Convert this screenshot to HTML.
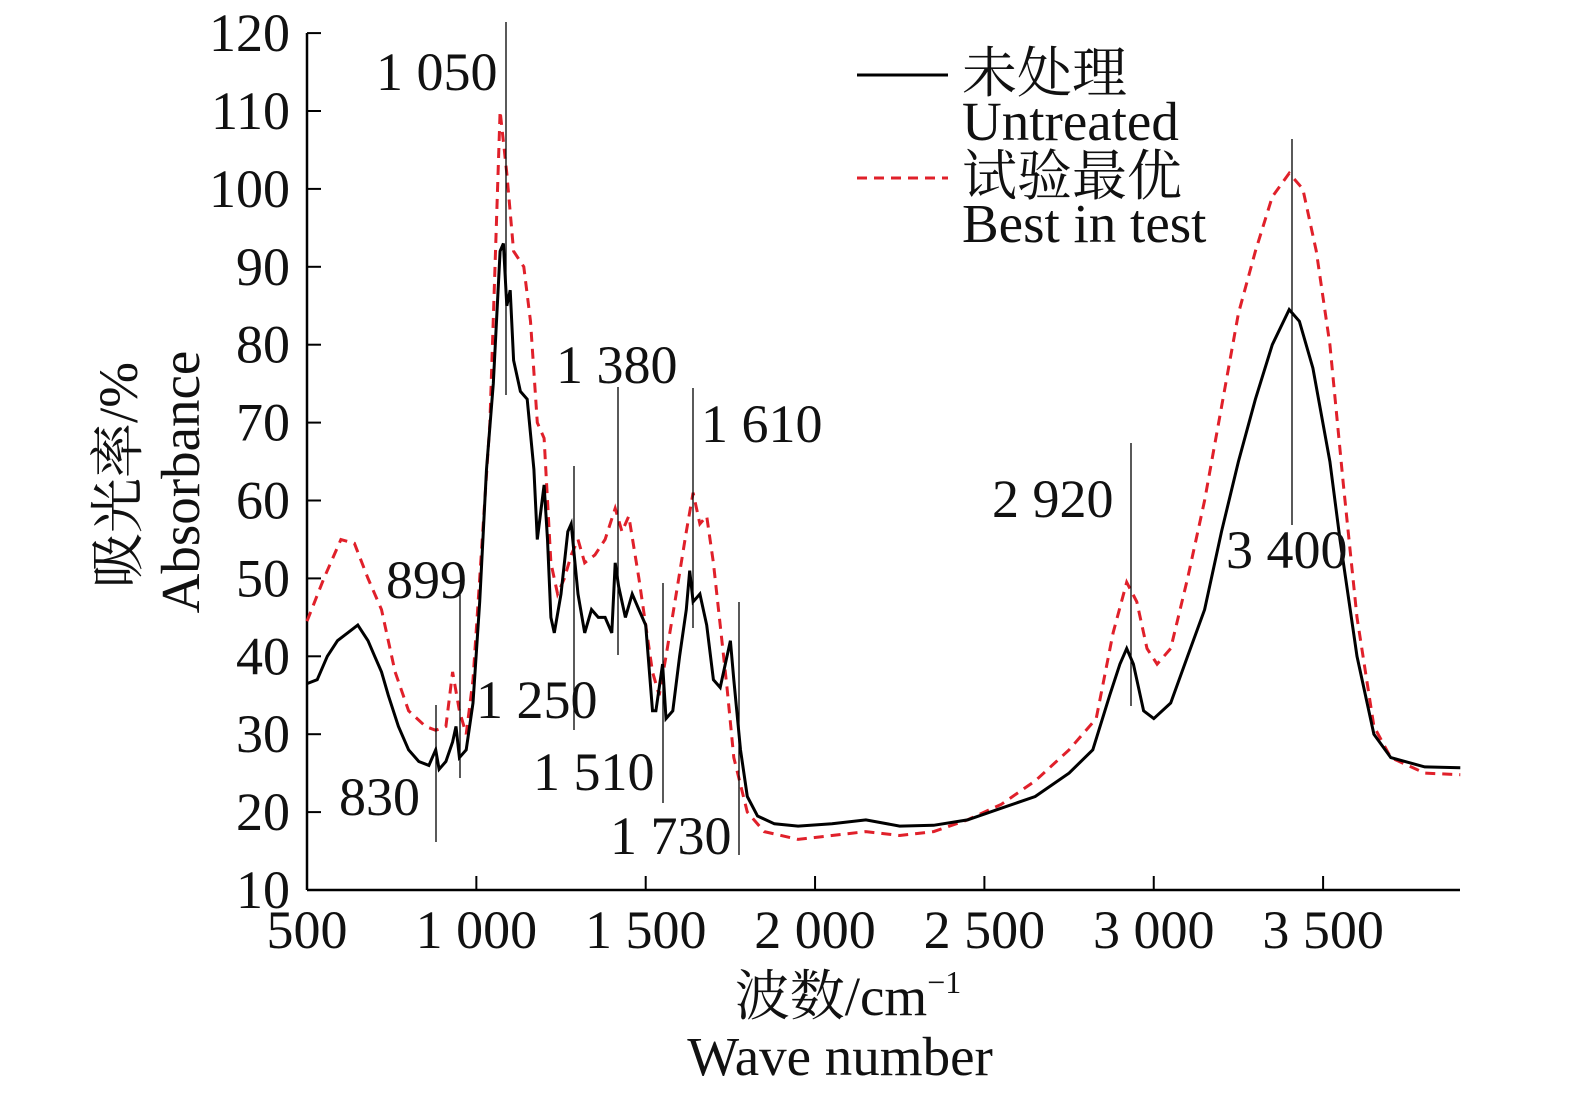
<!DOCTYPE html>
<html><head><meta charset="utf-8"><style>
body{margin:0;background:#fff}
svg{display:block;font-family:"Liberation Serif","Noto Serif CJK SC",serif}
</style></head><body>
<svg id="s" width="1575" height="1095" viewBox="0 0 1575 1095" xmlns="http://www.w3.org/2000/svg">
<g stroke="#000" stroke-width="2.5" fill="none">
<line x1="307" y1="33" x2="307" y2="890"/>
<line x1="307" y1="890" x2="1460" y2="890"/>
</g>
<g id="ticks" stroke="#000" stroke-width="2"></g>
<g id="lab" font-size="54" fill="#111"></g>
<polyline id="red" fill="none" stroke="#e0202a" stroke-width="3" stroke-dasharray="10,7"/>
<polyline id="blk" fill="none" stroke="#000" stroke-width="3"/>
<g stroke="#000" stroke-width="1.3">
<line x1="506" y1="22" x2="506" y2="395"/>
<line x1="436" y1="705" x2="436" y2="842"/>
<line x1="460" y1="592" x2="460" y2="778"/>
<line x1="574" y1="466" x2="574" y2="730"/>
<line x1="618" y1="387" x2="618" y2="655"/>
<line x1="663" y1="583" x2="663" y2="803"/>
<line x1="693" y1="388" x2="693" y2="628"/>
<line x1="739" y1="602" x2="739" y2="855"/>
<line x1="1131" y1="443" x2="1131" y2="706"/>
<line x1="1292" y1="139" x2="1292" y2="525"/>
</g>
<g font-size="54" fill="#111">
<text x="376" y="90">1 050</text>
<text x="386" y="598">899</text>
<text x="339" y="815">830</text>
<text x="476" y="718">1 250</text>
<text x="556" y="383">1 380</text>
<text x="533" y="790">1 510</text>
<text x="701" y="442">1 610</text>
<text x="610" y="854">1 730</text>
<text x="992" y="517">2 920</text>
<text x="1226" y="568">3 400</text>
</g>
<line x1="857" y1="75" x2="948" y2="75" stroke="#000" stroke-width="3"/>
<line x1="857" y1="178" x2="948" y2="178" stroke="#e0202a" stroke-width="3" stroke-dasharray="10,7"/>
<g font-size="55" fill="#111">
<text x="962" y="92">未处理</text>
<text x="962" y="140">Untreated</text>
<text x="962" y="195">试验最优</text>
<text x="962" y="242">Best in test</text>
<text x="848" y="1015" text-anchor="middle">波数/cm<tspan font-size="32" dy="-22">−1</tspan></text>
<text x="840" y="1075" text-anchor="middle">Wave number</text>
<text transform="translate(137,475) rotate(-90)" text-anchor="middle">吸光率/%</text>
<text transform="translate(199,482) rotate(-90)" text-anchor="middle">Absorbance</text>
</g>
</svg>
<script>
var X=w=>307+(w-500)*0.3387, Y=v=>890-(v-10)*7.79;
var b=[500,36.5,530,37,560,40,590,42,620,43,650,44,680,42,700,40,720,38,740,35,770,31,800,28,830,26.5,860,26,880,28,890,25.5,910,26.5,930,29,940,31,950,27,970,28,990,34,1010,47,1030,64,1050,75,1070,92,1080,93,1090,85,1100,87,1110,78,1130,74,1150,73,1170,64,1180,55,1200,62,1210,55,1220,45,1230,43,1250,48,1270,56,1280,57,1300,48,1320,43,1340,46,1360,45,1380,45,1400,43,1410,52,1420,49,1440,45,1460,48,1480,46,1500,44,1520,33,1530,33,1550,39,1560,32,1580,33,1600,40,1620,46,1630,51,1640,47,1660,48,1680,44,1700,37,1720,36,1740,40,1750,42,1760,37,1780,28,1800,22,1830,19.5,1880,18.5,1950,18.2,2050,18.5,2150,19,2250,18.2,2350,18.3,2450,19,2550,20.5,2650,22,2750,25,2820,28,2870,35,2900,39,2920,41,2940,39,2970,33,3000,32,3050,34,3100,40,3150,46,3200,56,3250,65,3300,73,3350,80,3400,84.5,3430,83,3470,77,3520,65,3550,55,3600,40,3650,30,3700,27,3800,25.8,3905,25.7];
var r=[500,44.5,550,50,600,55,640,54.5,680,50,720,46,760,38,800,33,850,31,880,30.5,910,31,930,38,950,33,970,30,990,37,1010,50,1040,70,1070,110,1090,102,1110,92,1140,90,1160,83,1180,70,1200,68,1220,52,1240,48,1260,50,1280,53,1300,55,1320,52,1350,53,1380,55,1410,59,1430,56,1450,58,1480,50,1500,44,1520,38,1540,35,1560,40,1590,48,1620,56,1640,61,1660,57,1680,58,1700,52,1720,44,1740,36,1760,27,1800,20,1850,17.5,1950,16.5,2050,17,2150,17.5,2250,17,2350,17.5,2450,19,2550,21,2650,24,2750,28,2830,32,2880,43,2920,49.5,2950,47,2980,41,3010,39,3050,41,3100,50,3150,60,3200,72,3250,84,3300,92,3350,99,3400,102,3440,100,3480,92,3520,80,3560,62,3600,45,3650,31,3700,27,3800,25,3905,24.8];
function pts(a){var s=[];for(var i=0;i<a.length;i+=2)s.push(X(a[i]).toFixed(1)+","+Y(a[i+1]).toFixed(1));return s.join(" ");}
document.getElementById("blk").setAttribute("points",pts(b));
document.getElementById("red").setAttribute("points",pts(r));
var t="",l="";
for(var v=10;v<=120;v+=10){var y=Y(v);t+='<line x1="307" y1="'+y+'" x2="321" y2="'+y+'"/>';l+='<text x="290" y="'+(y+18)+'" text-anchor="end">'+v+'</text>';}
var xs=[500,1000,1500,2000,2500,3000,3500],nm=["500","1 000","1 500","2 000","2 500","3 000","3 500"];
xs.forEach(function(w,i){var x=X(w);t+='<line x1="'+x+'" y1="890" x2="'+x+'" y2="876"/>';l+='<text x="'+x+'" y="948" text-anchor="middle">'+nm[i]+'</text>';});
document.getElementById("ticks").innerHTML=t;document.getElementById("lab").innerHTML=l;
</script>
</body></html>
